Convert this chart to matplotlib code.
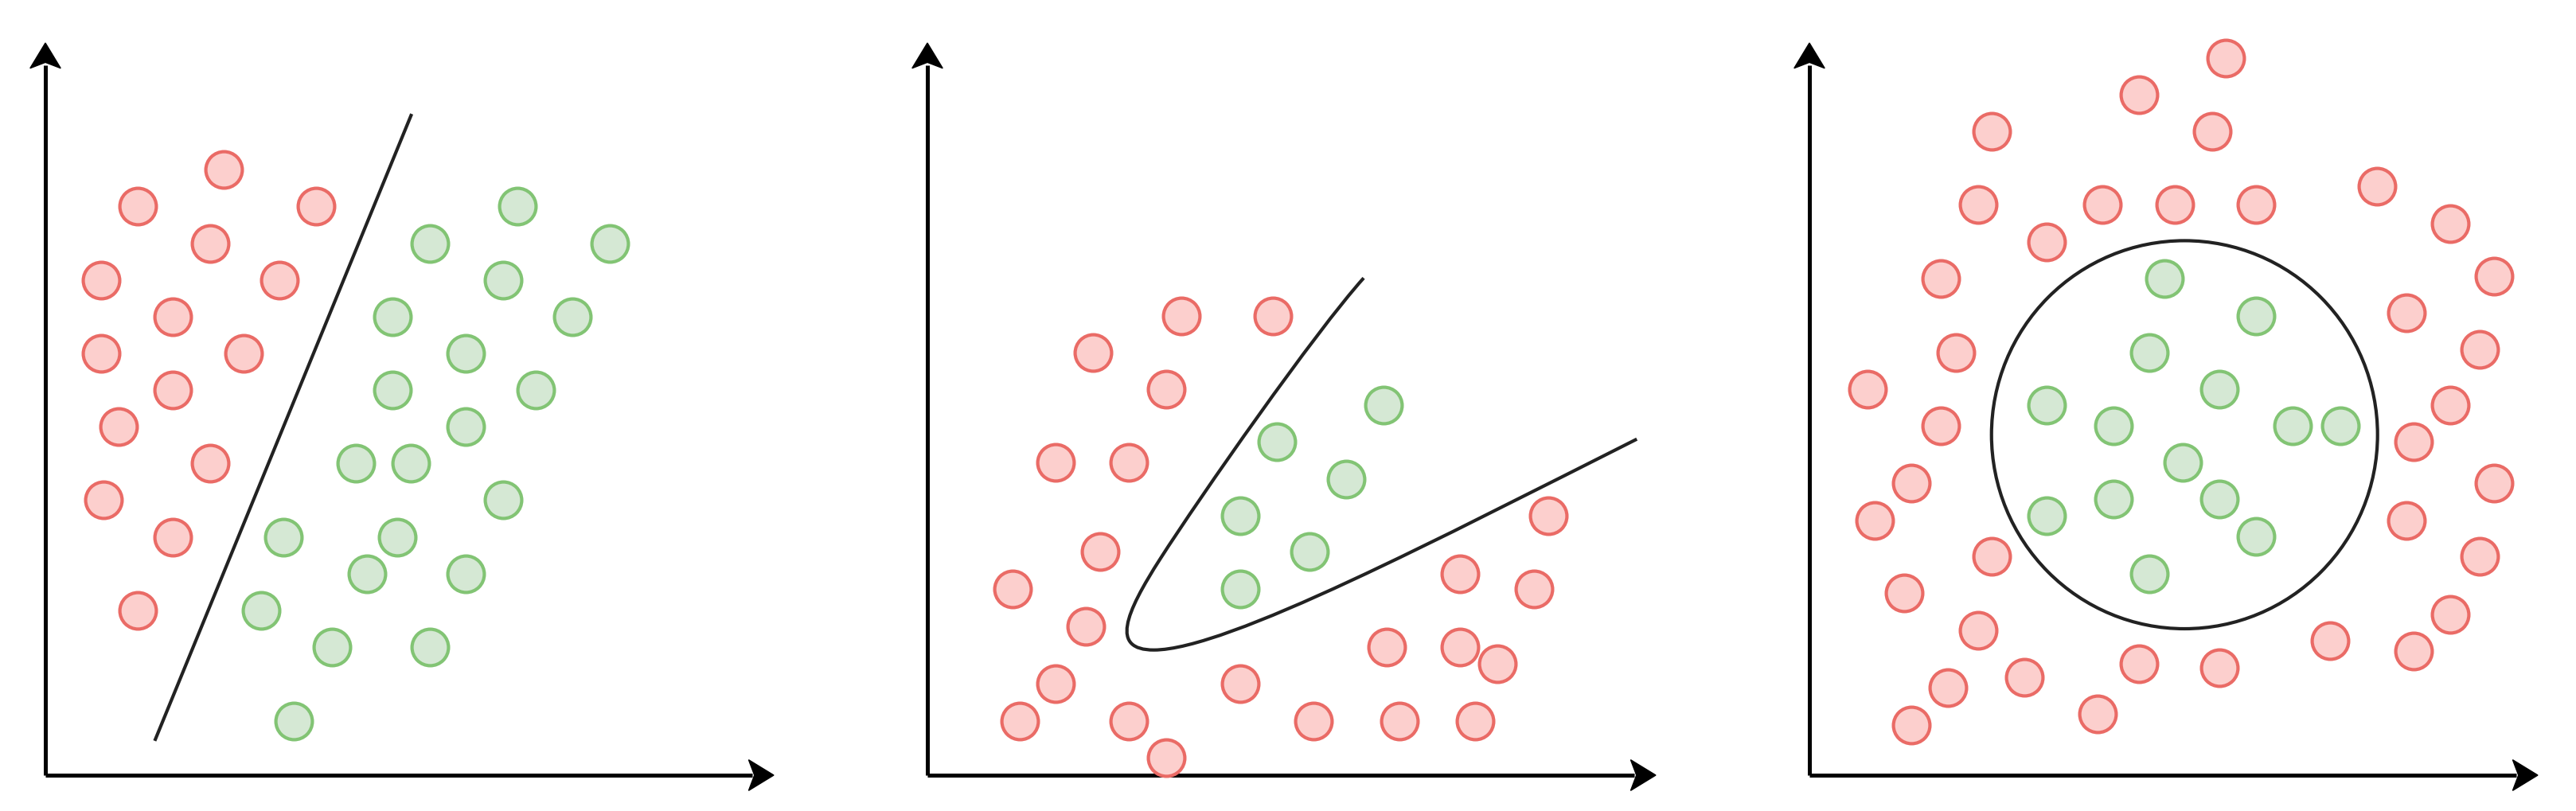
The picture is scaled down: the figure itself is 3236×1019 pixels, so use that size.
import matplotlib
matplotlib.use("Agg")
from matplotlib import pyplot
from matplotlib.patches import Circle, Polygon, PathPatch
from matplotlib.path import Path

# --- panel 1: linear boundary ---
lin_red_x = [24.5, 12.7, 37.2, 22.6, 7.6, 32.1, 17.5, 7.6, 27.2, 17.5, 10.0, 22.6, 8.0, 17.5, 12.7]
lin_red_y = [82.7, 77.7, 77.7, 72.6, 67.6, 67.6, 62.6, 57.6, 57.6, 52.6, 47.6, 42.6, 37.6, 32.5, 22.5]
lin_green_x = [64.8, 52.8, 77.5, 62.8, 47.7, 72.3, 57.7, 47.7, 67.3, 57.7, 42.6,
               50.2, 62.8, 32.7, 48.3, 44.2, 57.7, 29.6, 39.3, 52.8, 34.1]
lin_green_y = [77.7, 72.6, 72.6, 67.6, 62.6, 62.6, 57.6, 52.6, 52.6, 47.6, 42.6,
               42.6, 37.6, 32.5, 32.5, 27.5, 27.5, 22.5, 17.5, 17.5, 7.4]
lin_line_x = [15.1, 50.2]
lin_line_y = [4.9, 90.1]

# --- panel 2: curved boundary ---
cur_red_x = [34.9, 47.4, 22.7, 32.8, 17.6, 27.7, 23.7, 11.7, 21.7, 17.6, 12.7, 27.7,
             32.8, 42.9, 53.0, 64.8, 75.2, 63.1, 73.1, 78.2, 73.1, 83.3, 85.3]
cur_red_y = [62.7, 62.7, 57.7, 52.7, 42.7, 42.7, 30.5, 25.4, 20.3, 12.5, 7.4, 7.4,
             2.4, 12.5, 7.4, 7.4, 7.4, 17.5, 17.5, 15.2, 27.5, 25.4, 35.4]
cur_green_x = [62.6, 48.0, 57.5, 42.9, 52.5, 42.9]
cur_green_y = [50.5, 45.5, 40.4, 35.4, 30.5, 25.4]
# bezier control points of the boundary (3 cubic segments)
cur_ctrl_x = [59.9, 53.2, 37.4, 32.0, 27.1, 25.1, 31.1, 41.1, 70.6, 97.4]
cur_ctrl_y = [67.9, 60.5, 38.0, 29.6, 22.0, 17.1, 17.1, 17.1, 32.5, 45.9]

# --- panel 3: circular boundary ---
ring_red_x = [57.2, 45.2, 25.0, 55.3, 23.2, 40.2, 50.2, 61.3, 32.6, 77.9, 88.0, 94.0, 18.0,
              82.0, 92.0, 20.1, 8.0, 18.0, 88.0, 82.9, 14.0, 9.0, 94.0, 82.0, 25.0, 92.0,
              13.0, 88.0, 23.2, 71.5, 82.9, 45.2, 56.3, 29.5, 19.0, 39.6, 14.0]
ring_red_y = [97.9, 92.9, 87.9, 87.9, 77.9, 77.9, 77.9, 77.9, 72.8, 80.4, 75.3, 68.2, 67.8,
              63.2, 58.2, 57.7, 52.7, 47.7, 50.5, 45.5, 39.9, 34.8, 39.9, 34.8, 29.9, 29.9,
              24.9, 22.0, 19.8, 18.4, 17.0, 15.2, 14.7, 13.4, 12.0, 8.4, 6.9]
ring_green_x = [48.7, 61.3, 46.7, 56.3, 32.6, 41.7, 66.3, 72.9, 51.3, 41.7, 56.3, 32.6, 61.3, 46.7]
ring_green_y = [67.8, 62.7, 57.7, 52.7, 50.5, 47.7, 47.7, 47.7, 42.7, 37.7, 37.7, 35.4, 32.6, 27.5]
ring_center = (51.5, 46.5)
ring_radius = 26.5

RED_FILL, RED_EDGE = "#fccfcd", "#ea6b66"
GREEN_FILL, GREEN_EDGE = "#d5e8d4", "#82c474"
LINE = "#222222"

W, H = 3236, 1020
ORIGINS = [57, 1165, 2273]
BASE_Y = 975
LEN_X, LEN_Y = 915, 920


def drawAxes(ax):
    kw = dict(color="k", lw=3.6, solid_capstyle="butt", clip_on=False)
    ax.plot([0, 97], [0, 0], **kw)
    ax.plot([0, 0], [0, 97], **kw)
    # stealth style heads
    ax.add_patch(Polygon([(100, 0), (96.55, 2.1), (97.35, 0), (96.55, -2.1)],
                         closed=True, color="k", clip_on=False))
    ax.add_patch(Polygon([(0, 100), (2.1, 96.55), (0, 97.35), (-2.1, 96.55)],
                         closed=True, color="k", clip_on=False))


def drawPoints(ax, x, y, fill, edge):
    ax.plot(x, y, "o", ms=33, mfc=fill, mec=edge, mew=3.0, clip_on=False, zorder=3)


fig = pyplot.figure(figsize=(W / 100, H / 100), dpi=100)
axes = []
for ox in ORIGINS:
    ax = fig.add_axes([ox / W, (H - BASE_Y) / H, LEN_X / W, LEN_Y / H])
    ax.set_xlim(0, 100)
    ax.set_ylim(0, 100)
    ax.axis("off")
    drawAxes(ax)
    axes.append(ax)

ax1, ax2, ax3 = axes

drawPoints(ax1, lin_red_x, lin_red_y, RED_FILL, RED_EDGE)
drawPoints(ax1, lin_green_x, lin_green_y, GREEN_FILL, GREEN_EDGE)
ax1.plot(lin_line_x, lin_line_y, color=LINE, lw=3.0, zorder=2)

drawPoints(ax2, cur_red_x, cur_red_y, RED_FILL, RED_EDGE)
drawPoints(ax2, cur_green_x, cur_green_y, GREEN_FILL, GREEN_EDGE)
codes = [Path.MOVETO] + [Path.CURVE4] * (len(cur_ctrl_x) - 1)
path = Path(list(zip(cur_ctrl_x, cur_ctrl_y)), codes)
ax2.add_patch(PathPatch(path, fill=False, edgecolor=LINE, lw=3.0, zorder=2))

drawPoints(ax3, ring_red_x, ring_red_y, RED_FILL, RED_EDGE)
drawPoints(ax3, ring_green_x, ring_green_y, GREEN_FILL, GREEN_EDGE)
ax3.add_patch(Circle(ring_center, ring_radius, fill=False, edgecolor=LINE, lw=3.0, zorder=2))

pyplot.savefig("out.png", dpi=100, facecolor="white")
